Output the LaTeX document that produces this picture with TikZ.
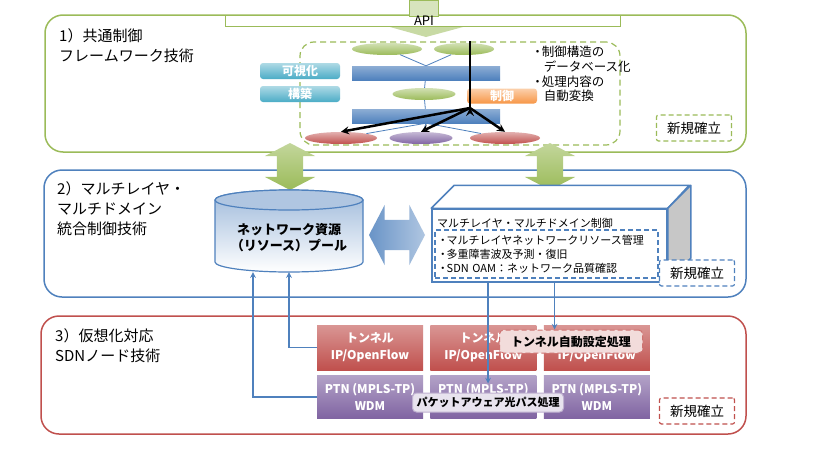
\documentclass[tikz,border=0pt]{standalone}
\usepackage{fontspec}
\setmainfont{Noto Sans CJK JP}
\usepackage{tikz}
\usetikzlibrary{arrows,positioning,shapes.geometric,shapes.arrows}
\definecolor{grn}{HTML}{9BBB59}
\definecolor{blu}{HTML}{4F81BD}
\definecolor{rd}{HTML}{C0504D}
\definecolor{prp}{HTML}{8064A2}
\definecolor{cyn}{HTML}{4BACC6}
\definecolor{org}{HTML}{F79646}
\newcommand{\fsz}[2]{\fontsize{#1}{#2}\selectfont}
\newcommand{\bul}{\makebox[0.7em][c]{・}}
\tikzset{
  panel/.style={draw=#1, line width=1.5pt, rounded corners=18pt, fill=white},
  ttl/.style={anchor=north west, align=left, inner sep=0pt, font=\fsz{15}{20}},
  newbox/.style={draw=#1, dash pattern=on 5pt off 3pt, line width=1.2pt, fill=white, rounded corners=2pt, minimum width=75pt, minimum height=26pt, font=\fsz{13.5}{16}},
  oval/.style={ellipse, inner sep=0pt, minimum height=12pt, top color=#1!45, bottom color=#1},
  bar/.style={inner sep=0pt, minimum width=148pt, minimum height=14pt, top color=blu!65, bottom color=blu},
  tag/.style={inner sep=0pt, rounded corners=3pt, minimum height=16pt, text=white, font=\bfseries\fsz{12}{14}, top color=#1!45, bottom color=#1},
  layer/.style={inner sep=0pt, minimum width=106pt, text=white, align=center, font=\bfseries\fsz{12}{17}, top color=#1!60, bottom color=#1},
  big/.style={double arrow, shape border rotate=#1, double arrow head extend=12pt, double arrow tip angle=125, inner sep=13pt},
  link/.style={draw=blu, line width=1.5pt, ->, >=stealth},
}
\begin{document}
\begin{tikzpicture}[x=1pt,y=-1pt]
\useasboundingbox (0,0) rectangle (814,450);
\draw[panel=grn] (45,15) rectangle (746,152);
\draw[panel=blu] (44,170) rectangle (746,297);
\draw[panel=rd] (41,316) rectangle (746,434);
\node[ttl] (t1) at (59,28) {1）共通制御\\フレームワーク技術};
\node[ttl] (t2) at (57,181) {2）マルチレイヤ・\\マルチドメイン\\統合制御技術};
\node[ttl] (t3) at (55,328) {3）仮想化対応\\SDNノード技術};

\draw[grn, line width=1pt, fill=white] (225,15) rectangle (620,26);
\draw[grn, line width=1pt, fill=grn!40] (409,0) rectangle (438,16);
\fill[grn!55] (390,27) -- (463,27) -- (426,37) -- cycle;
\node[font=\fsz{13}{15}] (api) at (424,21) {API};

\node[draw=grn, dash pattern=on 6pt off 4pt, line width=1.2pt, rounded corners=14pt, minimum width=320pt, minimum height=103pt] (fw) at (460,93.5) {};
\node[oval=grn, minimum width=70pt] (g1) at (387,49) {};
\node[oval=grn, minimum width=60pt] (g2) at (464,49) {};
\node[bar] (b1) at (426,73) {};
\node[oval=grn, minimum width=63pt] (m1) at (424,94) {};
\node[bar] (b2) at (426,116) {};
\node[oval=rd, minimum width=72pt] (r1) at (341,138) {};
\node[oval=prp, minimum width=63pt] (v1) at (421,138) {};
\node[oval=rd, minimum width=70pt] (r2) at (505,138) {};
\draw[blu, line width=0.8pt] (g1) -- (b1.north) -- (g2) (b1) -- (m1) -- (b2)
      (r1) -- (b2.south) -- (v1) (b2.south) -- (r2);
\node[tag=cyn, minimum width=80pt] (k1) at (300,71) {可視化};
\node[tag=cyn, minimum width=80pt] (k2) at (300,94) {構築};
\node[tag=org, minimum width=70pt, minimum height=15pt] (c1) at (502,96) {制御};
\coordinate (jn) at (470,108);
\draw[line width=2.5pt] (fw.north -| jn) -- (jn);
\path[->, >=stealth, line width=2.5pt, draw]
      (jn) edge (r1.north)
           edge (v1.north)
           edge (r2.north);
\node[anchor=north west, align=left, inner sep=0pt, font=\fsz{12.5}{14.7}] (n1) at (533,46)
      {\bul 制御構造の\\\hspace*{0.85em}データベース化\\\bul 処理内容の\\\hspace*{0.85em}自動変換};
\node[newbox=grn] (n2) at (694,128) {新規確立};

\node[big=90, minimum height=47pt, top color=grn!60, bottom color=grn] (a1) at (290,166.5) {};
\node[big=90, minimum height=47pt, top color=grn!60, bottom color=grn] (a2) at (550,166.5) {};

\path[draw=blu, line width=1.2pt, top color=blu!55, bottom color=white]
      (215,200) -- (215,262) arc[start angle=180, end angle=0, x radius=74, y radius=10]
      -- (363,200) arc[start angle=0, end angle=-180, x radius=74, y radius=10];
\draw[blu, line width=1.2pt, fill=blu!45] (289,200) ellipse[x radius=74, y radius=10];
\node[minimum width=148pt, minimum height=82pt, inner sep=0pt] (pool) at (289,231) {};
\node[align=center, font=\bfseries\fsz{13}{16}] (pl) at (289,238) {ネットワーク資源\\（リソース）プール};
\node[big=0, minimum height=56pt, inner sep=15pt, double arrow head extend=15pt, left color=blu!85, right color=blu!45] (a3) at (397,235) {};

\node[draw=blu, line width=1.5pt, fill=white, minimum width=235pt, minimum height=73pt, inner sep=0pt] (ctl) at (549.5,245.5) {};
\draw[blu, line width=1.5pt, line join=round, fill=white] (ctl.north west) -- ++(23,-23) -- ++(235,0) -- (ctl.north east) -- cycle;
\draw[blu, line width=1.5pt, line join=round, fill=black!22] (ctl.north east) -- ++(23,-23) -- ++(0,73) -- (ctl.south east) -- cycle;
\node[anchor=west, inner sep=0pt, font=\fsz{11}{14}] (h1) at (437,223) {マルチレイヤ・マルチドメイン制御};
\node[draw=blu, dash pattern=on 5pt off 3pt, line width=1.2pt, text width=215pt, align=left, inner sep=4pt, minimum height=48pt, font=\fsz{11}{14}] (ctlin) at (546.5,254)
      {\bul マルチレイヤネットワークリソース管理\\\bul 多重障害波及予測・復旧\\\bul SDN OAM：ネットワーク品質確認};
\node[newbox=blu] (n3) at (697,273) {新規確立};

\node[layer=rd, minimum height=45pt] (tu1) at (370,347.5) {トンネル\\IP/OpenFlow};
\node[layer=rd, minimum height=45pt, right=7pt of tu1] (tu2) {トンネル\\IP/OpenFlow};
\node[layer=rd, minimum height=45pt, right=7pt of tu2] (tu3) {トンネル\\IP/OpenFlow};
\node[layer=prp, minimum height=43pt, below=5pt of tu1] (pt1) {PTN (MPLS-TP)\\WDM};
\node[layer=prp, minimum height=43pt, below=5pt of tu2] (pt2) {PTN (MPLS-TP)\\WDM};
\node[layer=prp, minimum height=43pt, below=5pt of tu3] (pt3) {PTN (MPLS-TP)\\WDM};
\node[fill=rd!20, draw=rd!80, dash pattern=on 5pt off 3pt, line width=1pt, rounded corners=4pt, minimum width=143pt, minimum height=23pt, font=\bfseries\fsz{12}{14}] (tn) at (571,341.5) {トンネル自動設定処理};
\node[fill=prp!18, draw=prp!50, line width=1pt, rounded corners=4pt, minimum width=151pt, minimum height=19pt, inner sep=2pt, font=\bfseries\fsz{11}{13}] (pk) at (488,402.5) {パケットアウェア光パス処理};
\node[newbox=rd] (n4) at (697,411) {新規確立};

\coordinate (dn) at ([xshift=5pt]ctl.south);
\draw[link] (tu1.west) -| (pool.south);
\draw[link] (pt1.west) -| ([xshift=-36pt]pool.south);
\draw[link, shorten >=9pt] (ctl.south -| pk.north) -- (pk.north);
\draw[link] (dn) -- (dn |- tn.north);
\end{tikzpicture}
\end{document}
